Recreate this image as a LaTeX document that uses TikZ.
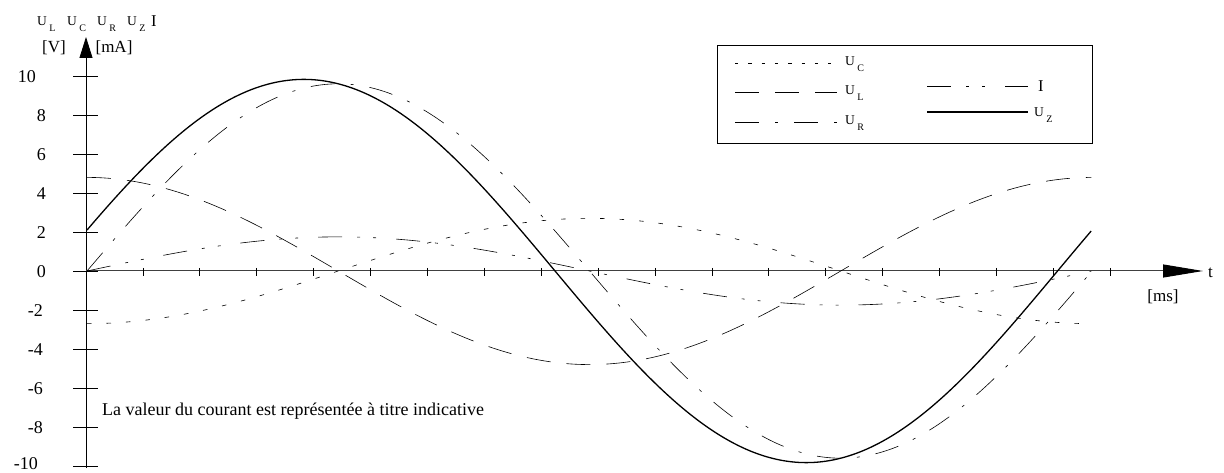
\documentclass[tikz,border=0pt]{standalone}
\usepackage{fontspec}
\setmainfont{Liberation Serif}
\usetikzlibrary{arrows.meta}
\newcommand\Usb[1]{U\hspace{2.5pt}\raisebox{-5.5pt}{\fontsize{10}{10}\selectfont #1}}
\begin{document}
\begin{tikzpicture}[x=1pt,y=-1pt,
  lab/.style={inner sep=0pt,font=\fontsize{18}{18}\selectfont},
  unit/.style={inner sep=0pt,font=\fontsize{17}{17}\selectfont},
  ulab/.style={inner sep=0pt,anchor=base west,font=\fontsize{13.5}{13.5}\selectfont},
  ilab/.style={inner sep=0pt,anchor=base west,font=\fontsize{16.5}{16.5}\selectfont},
  axis/.style={line width=0.8pt},
  crvUC/.style={line width=0.6pt,dash pattern=on 4.5pt off 15pt},
  crvUL/.style={line width=0.6pt,dash pattern=on 24pt off 16pt},
  crvUR/.style={line width=0.6pt,dash pattern=on 24pt off 16pt on 3pt off 16pt},
  crvI/.style={line width=0.6pt,dash pattern=on 24pt off 15pt on 3pt off 13pt on 3pt off 20pt},
  crvUZ/.style={line width=1.3pt},
  legUC/.style={line width=0.6pt,dash pattern=on 3.3pt off 10pt},
]
\useasboundingbox (0,0) rectangle (1224,473);
% axes
\coordinate (O) at (86,271);
\coordinate (ybot) at (86,468);
\coordinate (ytop) at (86,37);
\coordinate (xend) at (1203,271);
\draw[axis] (ybot) -- (O);
\draw[axis,-{Triangle[length=21pt,width=13pt]}] (O) -- (ytop);
\draw[line width=1pt,black!75,-{Triangle[length=40pt,width=13pt,color=black,fill=black]}] (O) -- (xend);
% y ticks
\foreach \v in {-10,-8,...,10}{\draw[line width=0.7pt] (73,{271-19.5*\v}) -- (98,{271-19.5*\v});}
% x ticks
\foreach \k in {1,...,18}{\draw[line width=0.7pt] ({86+56.9*\k},268) -- ({86+56.9*\k},276);}
% tick labels
\node[lab,anchor=east] (l10) at (36,77) {10};
\node[lab,anchor=east] (l8) at (46,116) {8};
\node[lab,anchor=east] (l6) at (46,155) {6};
\node[lab,anchor=east] (l4) at (46,194) {4};
\node[lab,anchor=east] (l2) at (46,233) {2};
\node[lab,anchor=east] (l0) at (46,272) {0};
\node[lab,anchor=east] (lm2) at (43,311) {-2};
\node[lab,anchor=east] (lm4) at (43,350) {-4};
\node[lab,anchor=east] (lm6) at (43,389) {-6};
\node[lab,anchor=east] (lm8) at (43,428) {-8};
\node[lab,anchor=east] (lm10) at (38,464) {-10};
% axis labels
\node[ulab] (hUL) at (37,26) {\Usb{L}};
\node[ulab] (hUC) at (67,26) {\Usb{C}};
\node[ulab] (hUR) at (97,26) {\Usb{R}};
\node[ulab] (hUZ) at (127,26) {\Usb{Z}};
\node[ilab] (hI) at (151,27) {I};
\node[unit] (uV) at (54,48) {[V]};
\node[unit] (umA) at (114,48) {[mA]};
\node[unit,anchor=west] (tlab) at (1208,273) {t};
\node[unit] (ums) at (1163,297) {[ms]};
\node[lab,anchor=base west] (note) at (102,415) {La valeur du courant est représentée à titre indicative};
% curves
\draw[crvUC] plot[domain=0:1,samples=250,smooth] ({87+1005*\x},{271+19.5*2.7*cos(360*\x)});
\draw[crvUL] plot[domain=0:1,samples=250,smooth] ({87+1005*\x},{271-19.5*4.8*cos(360*\x)});
\draw[crvUR] plot[domain=0:1,samples=250,smooth] ({87+1005*\x},{271-19.5*9.6*sin(360*\x)});
\draw[crvI] plot[domain=0:1,samples=250,smooth] ({87+1005*\x},{271-19.5*1.75*sin(360*\x)});
\draw[crvUZ] plot[domain=0:1,samples=300,smooth] ({87+1005*\x},{271-19.5*(9.6*sin(360*\x)+2.1*cos(360*\x))});
% legend
\node[draw,line width=0.8pt,minimum width=375pt,minimum height=98pt,inner sep=0pt,anchor=north west] (legend) at (717,45) {};
\coordinate (lC1) at (735,63);  \coordinate (lC2) at (837,63);
\coordinate (lL1) at (735,92);  \coordinate (lL2) at (837,92);
\coordinate (lR1) at (735,122); \coordinate (lR2) at (837,122);
\coordinate (lI1) at (927,86);  \coordinate (lI2) at (1028,86);
\coordinate (lZ1) at (927,112); \coordinate (lZ2) at (1028,112);
\draw[legUC] (lC1) -- (lC2);
\draw[crvUL] (lL1) -- (lL2);
\draw[crvUR] (lR1) -- (lR2);
\draw[crvI] (lI1) -- (lI2);
\draw[crvUZ] (lZ1) -- (lZ2);
\node[ulab] (gUC) at (845,66) {\Usb{C}};
\node[ulab] (gUL) at (845,95) {\Usb{L}};
\node[ulab] (gUR) at (845,125) {\Usb{R}};
\node[ilab] (gI) at (1038,92) {I};
\node[ulab] (gUZ) at (1034,117) {\Usb{Z}};
\end{tikzpicture}
\end{document}
